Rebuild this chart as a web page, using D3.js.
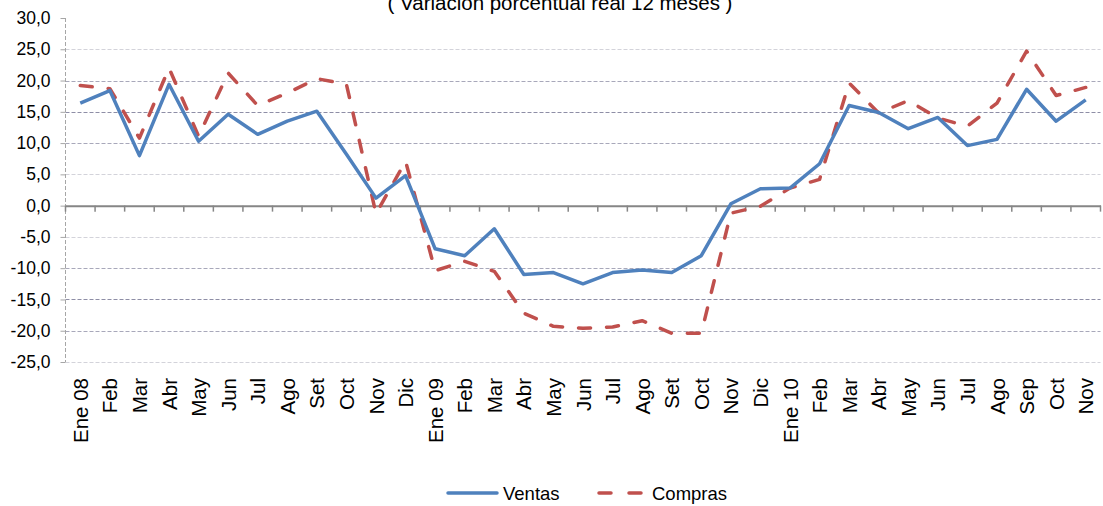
<!DOCTYPE html>
<html>
<head>
<meta charset="utf-8">
<script src="https://cdn.jsdelivr.net/npm/d3@7"></script>
<style>
  body { margin: 0; background: #fff; }
  svg { display: block; font-family: Arial, "Liberation Sans", sans-serif; }
</style>
</head>
<body>
<svg id="chart" width="1103" height="506"></svg>
<script>
const title = "( Variación porcentual real 12 meses )";
const categories = ["Ene 08","Feb","Mar","Abr","May","Jun","Jul","Ago","Set","Oct","Nov","Dic",
  "Ene 09","Feb","Mar","Abr","May","Jun","Jul","Ago","Set","Oct","Nov","Dic",
  "Ene 10","Feb","Mar","Abr","May","Jun","Jul","Ago","Sep","Oct","Nov"];
const ventas = [16.4,18.4,8.0,19.4,10.3,14.6,11.4,13.5,15.1,8.2,1.2,4.8,
  -6.9,-8.0,-3.7,-11.0,-10.7,-12.5,-10.7,-10.3,-10.7,-8.0,0.3,2.7,
  2.8,6.7,16.0,14.9,12.3,14.1,9.6,10.6,18.6,13.5,16.9];
const compras = [19.2,18.7,10.8,22.0,11.1,21.2,16.0,18.0,20.3,19.4,-1.3,7.1,
  -10.4,-8.9,-10.5,-17.2,-19.3,-19.6,-19.4,-18.4,-20.4,-20.4,-1.2,-0.1,
  2.8,4.2,19.6,14.8,16.8,14.0,12.7,16.4,24.7,17.6,18.9];
const yTicks = [30,25,20,15,10,5,0,-5,-10,-15,-20,-25];
const seriesNames = ["Ventas","Compras"];

const svg = d3.select("#chart");
const pLeft = 65.5, pRight = 1100.5, pTop = 18, pBottom = 362;

const x = d3.scaleBand().domain(d3.range(categories.length)).range([pLeft, pRight]).padding(0);
const y = d3.scaleLinear().domain([-25, 30]).range([pBottom, pTop]);
const fmt = v => d3.format(".1f")(v).replace(".", ",").replace("−", "-");

// Title (partly cut by the top edge, as in the reference)
svg.append("text").attr("x", 560).attr("y", 10).attr("text-anchor", "middle")
  .attr("font-size", 20.5).attr("fill", "#000").text(title);

// Gridlines
const gridColor = v => {
  const a = Math.abs(v);
  if (a === 25 || a === 5) return "#d3d3da";
  if (a === 15) return "#8e8ea6";
  return "#a8a8ba";
};
svg.append("g").selectAll("line").data(yTicks.filter(v => v !== 0 && v !== 30)).join("line")
  .attr("x1", pLeft).attr("x2", pRight)
  .attr("y1", d => Math.round(y(d)) + 0.5).attr("y2", d => Math.round(y(d)) + 0.5)
  .attr("stroke", gridColor).attr("stroke-width", 1).attr("stroke-dasharray", "4,2");

// Y axis
const yAxis = svg.append("g").attr("transform", `translate(${pLeft},0)`)
  .call(d3.axisLeft(y).tickValues(yTicks).tickSize(5).tickPadding(10).tickFormat(fmt));
yAxis.select(".domain").attr("stroke", "#a6a6a6").attr("stroke-dasharray", "4,2").attr("d", `M0,${pTop}V${pBottom}`);
yAxis.selectAll(".tick line").attr("stroke", "#a6a6a6");
yAxis.selectAll(".tick text").attr("font-size", 17.5).attr("fill", "#000")
  .attr("font-family", "Arial, 'Liberation Sans', sans-serif");

// Zero axis with category ticks
const xAxis = svg.append("g").attr("transform", `translate(0,${y(0)})`)
  .call(d3.axisBottom(x).tickSize(0).tickFormat(""));
xAxis.select(".domain").attr("stroke", "#868686").attr("stroke-width", 2);
const boundaries = d3.range(categories.length + 1).map(i => pLeft + i * x.bandwidth());
xAxis.append("g").selectAll("line").data(boundaries).join("line")
  .attr("x1", d => d).attr("x2", d => d).attr("y1", 0).attr("y2", 6)
  .attr("stroke", "#868686").attr("stroke-width", 1.5);

// X labels (rotated), at bottom of the plot
svg.append("g").selectAll("text").data(categories).join("text")
  .attr("transform", (d, i) => `translate(${x(i) + x.bandwidth() / 2 + 7.5},${pBottom + 16}) rotate(-90)`)
  .attr("text-anchor", "end").attr("font-size", 20.5).attr("fill", "#000")
  .text(d => d);

// Lines
const line = d3.line().x((d, i) => x(i) + x.bandwidth() / 2).y(d => y(d));
svg.append("path").datum(compras).attr("d", line).attr("fill", "none")
  .attr("stroke", "#C0504D").attr("stroke-width", 3.5).attr("stroke-dasharray", "12,16")
  .attr("stroke-linecap", "round").attr("stroke-linejoin", "round");
svg.append("path").datum(ventas).attr("d", line).attr("fill", "none")
  .attr("stroke", "#4F81BD").attr("stroke-width", 3.5).attr("stroke-linejoin", "round");

// Legend
const lg = svg.append("g");
lg.append("line").attr("x1", 448).attr("x2", 497).attr("y1", 493).attr("y2", 493)
  .attr("stroke", "#4F81BD").attr("stroke-width", 3.5).attr("stroke-linecap", "round");
lg.append("text").attr("x", 503).attr("y", 500).attr("font-size", 18.5).text(seriesNames[0]);
lg.append("line").attr("x1", 599).attr("x2", 641).attr("y1", 493).attr("y2", 493)
  .attr("stroke", "#C0504D").attr("stroke-width", 3.5).attr("stroke-linecap", "round")
  .attr("stroke-dasharray", "12,18");
lg.append("text").attr("x", 652).attr("y", 500).attr("font-size", 18.5).text(seriesNames[1]);
</script>
</body>
</html>
